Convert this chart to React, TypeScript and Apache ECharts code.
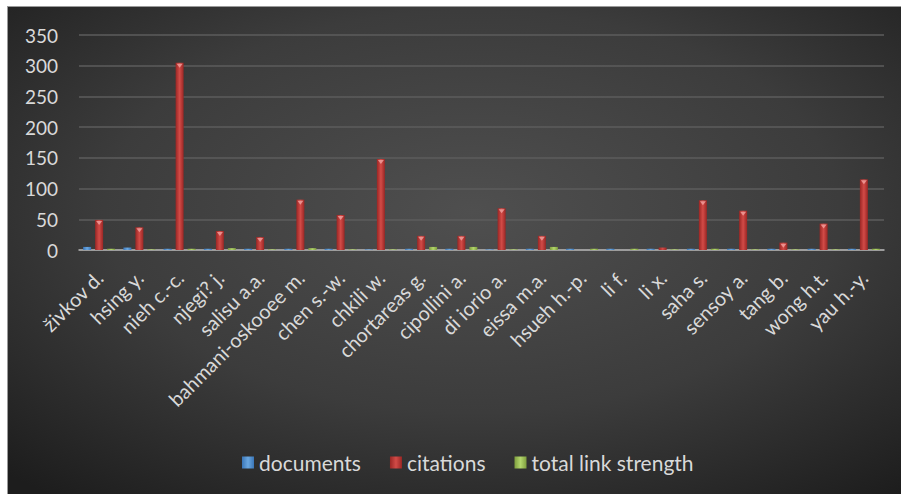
import React, { useEffect, useRef } from "react";
import * as echarts from "echarts";

const authors = [
  "živkov d.", "hsing y.", "nieh c.-c.", "njegi? j.", "salisu a.a.",
  "bahmani-oskooee m.", "chen s.-w.", "chkili w.", "chortareas g.", "cipollini a.",
  "di iorio a.", "eissa m.a.", "hsueh h.-p.", "li f.", "li x.",
  "saha s.", "sensoy a.", "tang b.", "wong h.t.", "yau h.-y.",
];

const documents = [5, 4, 2, 2, 2, 2, 2, 1, 2, 2, 1, 2, 2, 2, 2, 2, 2, 2, 2, 2];
const citations = [49, 37, 305, 31, 21, 82, 57, 148, 23, 23, 68, 23, 0, 0, 4, 81, 64, 12, 43, 115];
const linkStrength = [2, 1, 2, 3, 1, 3, 1, 1, 5, 5, 1, 5, 2, 2, 1, 2, 1, 1, 1, 2];

const yTicks = [0, 50, 100, 150, 200, 250, 300, 350];

const FONT = "Lato, 'Open Sans', sans-serif";
const TEXT = "#d9d9d9";

function barGradient(edge: string, mid: string) {
  return new echarts.graphic.LinearGradient(0, 0, 1, 0, [
    { offset: 0, color: edge },
    { offset: 0.5, color: mid },
    { offset: 1, color: edge },
  ]);
}

export default function App() {
  const ref = useRef<HTMLDivElement>(null);

  useEffect(() => {
    document.body.style.margin = "0";
    document.body.style.background = "#ffffff";
    if (!ref.current) return;
    const chart = echarts.init(ref.current, undefined, { renderer: "svg" });

    const barCommon = {
      type: "bar" as const,
      barWidth: 8,
      barGap: "50%",
    };

    chart.setOption({
      animation: false,
      backgroundColor: {
        type: "radial",
        x: 0.52,
        y: 0.42,
        r: 0.75,
        colorStops: [
          { offset: 0, color: "#4f4f4f" },
          { offset: 0.55, color: "#3c3c3c" },
          { offset: 1, color: "#1d1d1d" },
        ],
      },
      grid: { left: 71, right: 17, top: 28, bottom: 244, containLabel: false },
      legend: {
        data: ["documents", "citations", "total link strength"],
        bottom: 16,
        left: 229,
        itemWidth: 12,
        itemHeight: 12,
        itemGap: 29,
        icon: "rect",
        textStyle: { color: TEXT, fontSize: 21, fontFamily: FONT },
      },
      xAxis: {
        type: "category",
        data: authors,
        axisLine: { show: true, lineStyle: { color: "#b5b5b5", width: 1.5 } },
        axisTick: { show: false },
        axisLabel: {
          rotate: 45,
          interval: 0,
          color: TEXT,
          fontSize: 20,
          fontFamily: FONT,
          margin: 24,
        },
      },
      yAxis: {
        type: "value",
        min: 0,
        max: yTicks[yTicks.length - 1],
        interval: 50,
        axisLine: { show: false },
        axisTick: { show: false },
        axisLabel: { color: TEXT, fontSize: 19, fontFamily: FONT, margin: 21 },
        splitLine: { lineStyle: { color: "#5c5c5c", width: 1.5 } },
      },
      series: [
        {
          ...barCommon,
          name: "documents",
          data: documents,
          itemStyle: { color: barGradient("#3a76b8", "#6aa7e0") },
        },
        {
          ...barCommon,
          name: "citations",
          data: citations,
          itemStyle: { color: barGradient("#9a2624", "#d24b47") },
        },
        {
          ...barCommon,
          name: "total link strength",
          data: linkStrength,
          itemStyle: { color: barGradient("#7f9f3e", "#b3d66c") },
        },
        {
          // light notch at the top of each citation bar
          type: "scatter",
          name: "citations-cap",
          data: citations.map((v) => (v >= 8 ? v : "-")),
          symbol: "triangle",
          symbolRotate: 180,
          symbolSize: [6, 4],
          symbolOffset: [0, 3],
          itemStyle: { color: "#f2a3a0" },
          silent: true,
          z: 5,
        },
      ],
    });

    return () => chart.dispose();
  }, []);

  return (
    <div style={{ position: "relative", width: 901, height: 494, background: "#fff", overflow: "hidden" }}>
      <div
        ref={ref}
        style={{
          position: "absolute",
          left: 7,
          top: 6,
          width: 894,
          height: 488,
          borderTop: "1px solid #9a9a9a",
          borderLeft: "1px solid #9a9a9a",
          boxSizing: "border-box",
        }}
      />
    </div>
  );
}
